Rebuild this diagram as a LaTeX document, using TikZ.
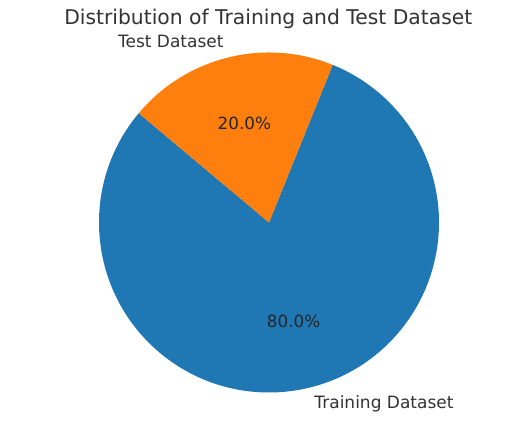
\documentclass[tikz,border=0pt]{standalone}
\usepackage{fontspec}
\setmainfont{DejaVu Sans}
\definecolor{trainblue}{HTML}{1F77B4}
\definecolor{testorange}{HTML}{FF7F0E}
\tikzset{
  lbl/.style={text=black!80, font=\fontsize{17}{20}\selectfont, inner sep=0pt},
  pct/.style={text=black!85, font=\fontsize{16.8}{20}\selectfont, inner sep=0pt}
}

\begin{document}
\begin{tikzpicture}[x=1pt,y=1pt]
  \useasboundingbox (0,0) rectangle (525,441);
  \coordinate (O) at (269,218.5);
  % wedges, start angle 140
  \fill[trainblue] (O) -- +(140:170) arc (140:428:170) -- cycle;
  \fill[testorange] (O) -- +(68:170) arc (68:140:170) -- cycle;
  \node[text=black!80, font=\fontsize{20.3}{24}\selectfont, inner sep=0pt] (title) at (268.3,422) {Distribution of Training and Test Dataset};
  \path (O) ++(104:187) node[lbl, anchor=east] (testlbl) {Test Dataset};
  \path (O) ++(284:187) node[lbl, anchor=west] (trainlbl) {Training Dataset};
  \path (O) ++(104:102) node[pct] (testpct) {20.0\%};
  \path (O) ++(284:102) node[pct] (trainpct) {80.0\%};
\end{tikzpicture}
\end{document}
